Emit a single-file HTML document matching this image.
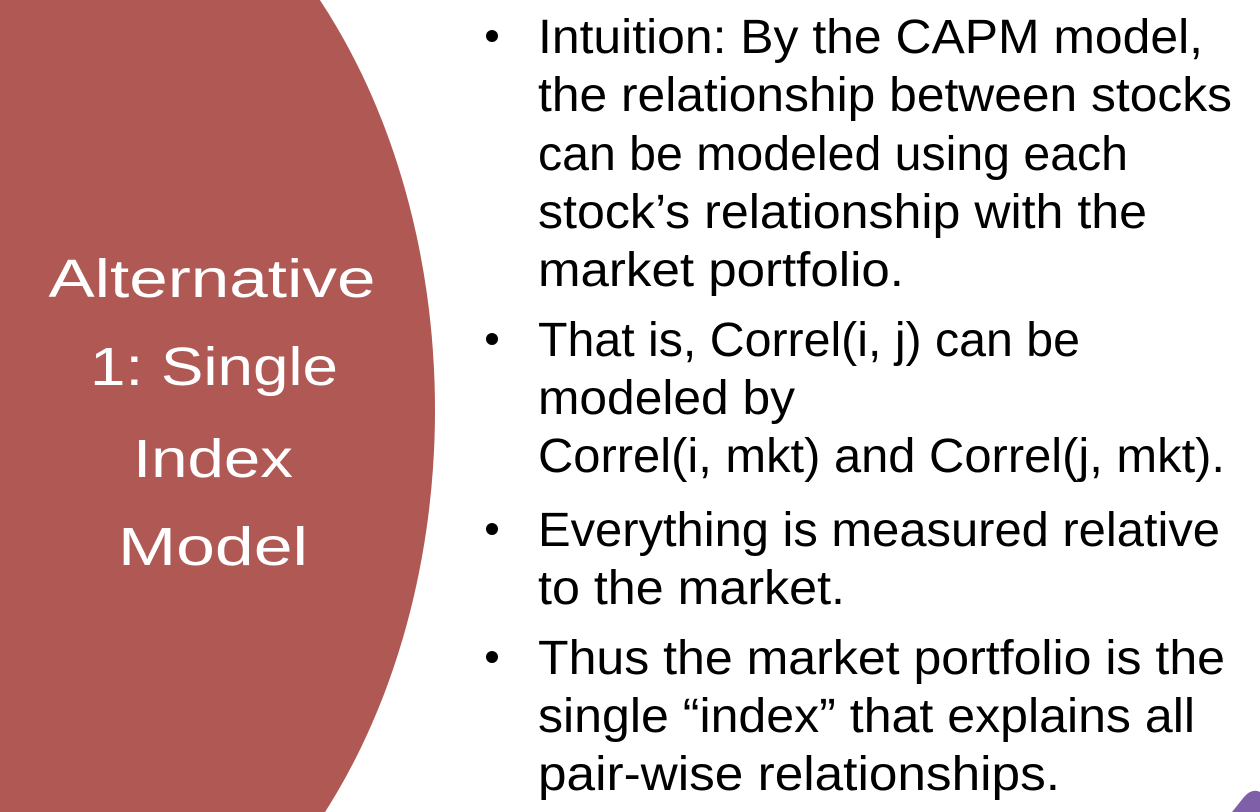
<!DOCTYPE html>
<html><head><meta charset="utf-8"><style>
html,body{margin:0;padding:0;background:#fff;width:1260px;height:812px;overflow:hidden}
svg{display:block}
text{font-family:"Liberation Sans",sans-serif}
</style></head><body>
<svg width="1260" height="812" viewBox="0 0 1260 812">
<ellipse cx="0" cy="410" rx="435" ry="605" fill="#B05853"/>
<g fill="#fff" font-size="54" text-anchor="middle">
<text x="212" y="297" textLength="327" lengthAdjust="spacingAndGlyphs">Alternative</text>
<text x="214" y="385" textLength="248" lengthAdjust="spacingAndGlyphs">1: Single</text>
<text x="213" y="477" textLength="160" lengthAdjust="spacingAndGlyphs">Index</text>
<text x="213" y="565" textLength="190" lengthAdjust="spacingAndGlyphs">Model</text>
</g>
<g fill="#000" font-size="48">
<circle cx="492" cy="36" r="6"/>
<circle cx="492" cy="339" r="6"/>
<circle cx="492" cy="529" r="6"/>
<circle cx="492" cy="657" r="6"/>
<text x="538" y="53" textLength="665" lengthAdjust="spacingAndGlyphs">Intuition: By the CAPM model,</text>
<text x="538" y="111" textLength="694" lengthAdjust="spacingAndGlyphs">the relationship between stocks</text>
<text x="538" y="170" textLength="590" lengthAdjust="spacingAndGlyphs">can be modeled using each</text>
<text x="538" y="228" textLength="609" lengthAdjust="spacingAndGlyphs">stock’s relationship with the</text>
<text x="538" y="286" textLength="366" lengthAdjust="spacingAndGlyphs">market portfolio.</text>
<text x="538" y="356" textLength="542" lengthAdjust="spacingAndGlyphs">That is, Correl(i, j) can be</text>
<text x="538" y="414" textLength="257" lengthAdjust="spacingAndGlyphs">modeled by</text>
<text x="538" y="472" textLength="687" lengthAdjust="spacingAndGlyphs">Correl(i, mkt) and Correl(j, mkt).</text>
<text x="538" y="546" textLength="682" lengthAdjust="spacingAndGlyphs">Everything is measured relative</text>
<text x="538" y="604" textLength="307" lengthAdjust="spacingAndGlyphs">to the market.</text>
<text x="538" y="674" textLength="687" lengthAdjust="spacingAndGlyphs">Thus the market portfolio is the</text>
<text x="538" y="732" textLength="657" lengthAdjust="spacingAndGlyphs">single “index” that explains all</text>
<text x="538" y="790" textLength="522" lengthAdjust="spacingAndGlyphs">pair-wise relationships.</text>
</g>
<path d="M1232 812 L1244 797 Q1252 788 1260 792 L1260 812 Z" fill="#7E5FA8"/>
</svg>
</body></html>
